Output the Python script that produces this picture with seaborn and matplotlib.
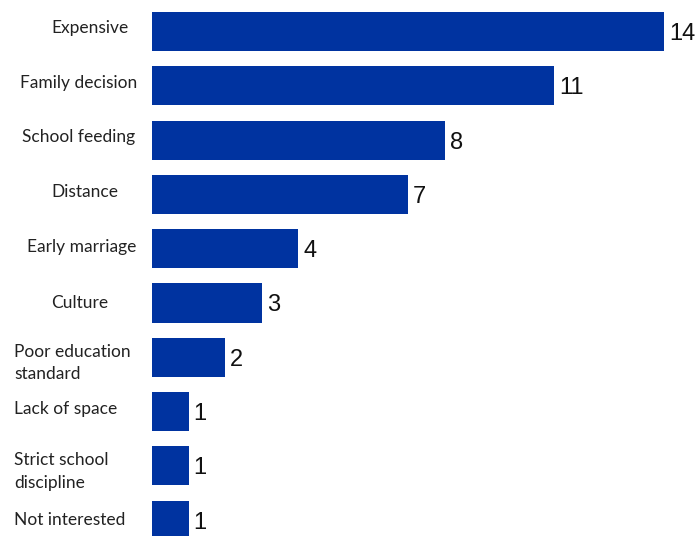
import matplotlib
matplotlib.use("Agg")
import matplotlib.pyplot as plt
import seaborn as sns
import pandas as pd

# Reasons given for leaving school (number of responses)
categories = [
    "Expensive",
    "Family decision",
    "School feeding",
    "Distance",
    "Early marriage",
    "Culture",
    "Poor education\nstandard",
    "Lack of space",
    "Strict school\ndiscipline",
    "Not interested",
]
counts = [14, 11, 8, 7, 4, 3, 2, 1, 1, 1]

# Layout: left edge of each category label, in pixels left of the bar baseline,
# and a small vertical nudge (points, positive = up)
label_left_px = [101, 132, 130, 101, 125, 101, 138, 138, 138, 138]
label_dy_pt = [2.5, 2, 2, 2, 1, 0, -4, 2, -4, 0]

BAR_COLOR = "#0033A0"
DPI = 100

sns.set_theme(style="white")
plt.rcParams["font.family"] = ["Lato", "DejaVu Sans"]

df = pd.DataFrame({"category": categories, "count": counts})

fig = plt.figure(figsize=(6.96, 5.36), dpi=DPI)
ax = fig.add_axes([152 / 696, 0.0, 1 - 152 / 696, 1.0])

sns.barplot(data=df, x="count", y="category", color=BAR_COLOR, saturation=1,
            width=0.72, orient="h", linewidth=0, ax=ax)

px_per_unit = (664 - 152) / 14
ax.set_xlim(0, 544 / px_per_unit)
pitch = 54.3
ax.set_ylim((536 - 31.5) / pitch, -31.5 / pitch)

for i, (cat, v) in enumerate(zip(categories, counts)):
    ax.annotate(cat, xy=(0, i), xycoords="data",
                xytext=(-label_left_px[i] * 72 / DPI, label_dy_pt[i]),
                textcoords="offset points", ha="left", va="center",
                fontsize=12.5, color="#222222", linespacing=1.5)
    ax.annotate(f"{v}", xy=(v, i), xycoords="data",
                xytext=(5 * 72 / DPI, 0), textcoords="offset points",
                ha="left", va="center_baseline", fontsize=17,
                family=["Liberation Sans", "DejaVu Sans"], color="#111111")

ax.set_xlabel("")
ax.set_ylabel("")
ax.set_xticks([])
ax.set_yticks([])
for s in ax.spines.values():
    s.set_visible(False)

fig.savefig("out.png", dpi=DPI, facecolor="white")
